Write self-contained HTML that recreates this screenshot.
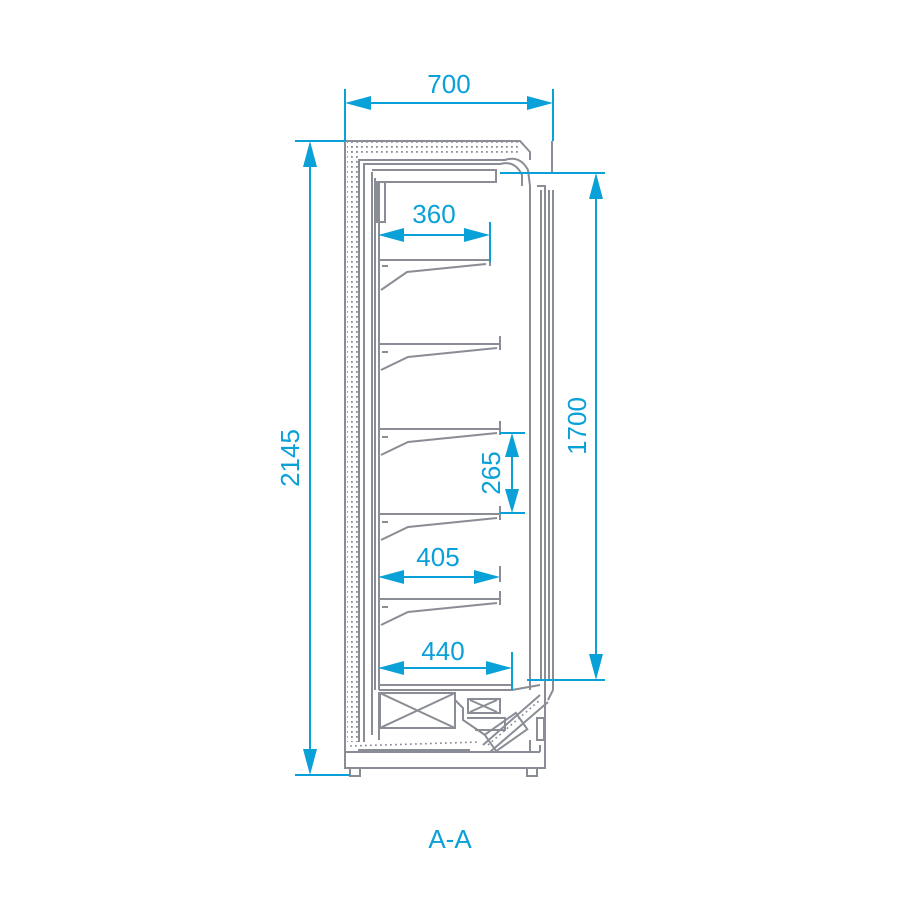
<!DOCTYPE html>
<html><head><meta charset="utf-8"><style>html,body{margin:0;padding:0;background:#fff}svg{display:block}</style></head>
<body>
<svg width="900" height="900" viewBox="0 0 900 900" xmlns="http://www.w3.org/2000/svg">
<defs>
<pattern id="dots" width="5" height="5" patternUnits="userSpaceOnUse"><rect x="1" y="1" width="1.8" height="1.8" fill="#8a8d95"/></pattern>
</defs>
<g fill="none" stroke="#8a8d95" stroke-width="2">
<path d="M345 141 H520 L530 152 V160"/>
<path d="M345 141 V768 H545 V680"/>
<rect x="347" y="142" width="12" height="600" fill="url(#dots)" stroke="none"/>
<rect x="347" y="142" width="172" height="12" fill="url(#dots)" stroke="none"/>
<path d="M359 742 V160 H505 Q520 155 528 170 L530 186"/>
<path d="M364 742 V164 H500 Q515 160 522 175 V186"/>
<path d="M358 750 H470" />
<path d="M345 752 H540"/>
<path d="M372 170 H496 V182 H375"/>
<rect x="377" y="182" width="8" height="40"/>
<path d="M375 178 V690"/>
<path d="M379 182 V690"/>
<path d="M372 172 V735"/>
<path d="M530 186 V690"/>
<path d="M537 186 H545 V680"/>
<path d="M541 190 V680"/>
<path d="M549 190 V680"/>
<path d="M552 141 V172"/>
<path d="M553 190 V690 L548 700"/>
<g>
<path d="M380 260 H490 M490 252 V266 M382 266 H388"/>
<path d="M381 290 L407 272 L486 264"/>
<path d="M380 344 H500 M500 336 V350 M382 352 H388"/>
<path d="M381 370 L408 357 L497 348"/>
<path d="M380 429 H500 M500 421 V435 M382 437 H388"/>
<path d="M381 455 L408 442 L497 433"/>
<path d="M380 514 H500 M500 506 V520 M382 522 H388"/>
<path d="M381 540 L408 527 L497 518"/>
<path d="M380 599 H500 M500 591 V605 M382 607 H388"/>
<path d="M381 625 L408 612 L497 603"/>
<path d="M500 566 V582"/>
</g>
<path d="M379 685 H512 M379 690 H512 L540 685"/>
<path d="M379 692 V740"/>
<rect x="380" y="693" width="75" height="35"/>
<path d="M380 693 L455 728 M455 693 L380 728"/>
<path d="M455 693 V700 L463 708 V720 L485 735"/>
<rect x="468" y="699" width="32" height="14"/>
<path d="M470 712 L497 700 M470 700 L497 712"/>
<path d="M467 718 H505 V730 H475"/>
<path d="M483 745 L540 695 M490 752 L548 702"/>
<rect x="487" y="722" width="38" height="20" transform="rotate(-35 506 732)"/>
<rect x="537" y="718" width="7" height="22"/>
<path d="M530 740 V752 M540 745 V752"/>
<rect x="350" y="768" width="10" height="8"/>
<rect x="527" y="768" width="10" height="8"/>
</g>
<path d="M350 746 L480 742 M488 745 L540 700" stroke="#8a8d95" stroke-width="1.6" stroke-dasharray="1.8 3.2" fill="none"/>

<g stroke="#0aa0d8" stroke-width="2" fill="none">
<path d="M345 89 V141 M553 89 V141"/>
<path d="M370 103 H528"/>
<path d="M295 141 H345 M295 775 H350"/>
<path d="M310 166 V750"/>
<path d="M500 173 H605 M527 680 H605"/>
<path d="M596 198 V655"/>
<path d="M490 222 V262 M402 235 H466"/>
<path d="M402 577 H476"/>
<path d="M512 652 V690 M402 668 H488"/>
<path d="M500 433 H525 M500 513 H525 M512 455 V491"/>
</g>
<g fill="#0aa0d8">
<polygon points="345,103 371,96 371,110"/><polygon points="553,103 527,96 527,110"/>
<polygon points="310,141 303,167 317,167"/><polygon points="310,775 303,749 317,749"/>
<polygon points="596,173 589,199 603,199"/><polygon points="596,680 589,654 603,654"/>
<polygon points="378,235 404,228 404,242"/><polygon points="490,235 464,228 464,242"/>
<polygon points="378,577 404,570 404,584"/><polygon points="500,577 474,570 474,584"/>
<polygon points="378,668 404,661 404,675"/><polygon points="512,668 486,661 486,675"/>
<polygon points="512,433 505,457 519,457"/><polygon points="512,513 505,489 519,489"/>
</g>
<g fill="#0aa0d8" font-family="Liberation Sans, sans-serif" font-size="26" text-anchor="middle">
<text x="449" y="93">700</text>
<text x="434" y="223">360</text>
<text x="438" y="566">405</text>
<text x="443" y="660">440</text>
<text x="450" y="848">A-A</text>
<text transform="translate(299,458) rotate(-90)">2145</text>
<text transform="translate(586,426) rotate(-90)">1700</text>
<text transform="translate(500,473) rotate(-90)">265</text>
</g>
</svg>
</body></html>
